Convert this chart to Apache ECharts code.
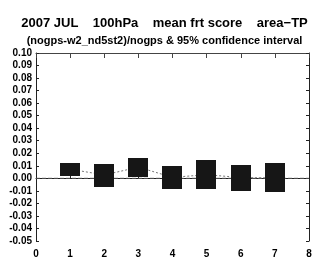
<!DOCTYPE html>
<html>
<head>
<meta charset="utf-8">
<script src="https://cdn.jsdelivr.net/npm/echarts@6/dist/echarts.min.js"></script>
<style>
  html, body { margin: 0; padding: 0; background: #fff; }
  #chart { width: 329px; height: 259px; }
</style>
</head>
<body>
<div id="chart"></div>
<script>
// forecast hours index 1..7
var steps = [1, 2, 3, 4, 5, 6, 7];
// 95% confidence interval (lower / upper)
var ciLow = [0.0020, -0.0063, 0.0013, -0.0083, -0.0088, -0.0099, -0.0115];
var ciHigh = [0.0125, 0.0117, 0.0164, 0.0099, 0.0146, 0.0110, 0.0120];
// mean score difference
var meanVal = [0.0073, 0.0027, 0.0089, 0.0008, 0.0029, 0.0006, 0.0003];
var zeroLine = [[0, 0], [8, 0]];

var chart = echarts.init(document.getElementById("chart"));
var lblFont = { fontFamily: "Liberation Sans", fontWeight: "bold", fontSize: 10, color: "#000" };

var boxData = steps.map(function (s, i) { return [s, ciLow[i], ciHigh[i]]; });
var meanData = steps.map(function (s, i) { return [s, meanVal[i]]; });

var option = {
  animation: false,
  backgroundColor: "#fff",
  grid: { left: 36, right: 20, top: 53, bottom: 14 },
  graphic: [
    { type: "text", left: "center", top: 17,
      style: { text: "2007 JUL    100hPa    mean frt score    area\u2212TP",
        font: "bold 13px Liberation Sans", fill: "#000" } },
    { type: "text", left: "center", top: 35,
      style: { text: "(nogps-w2_nd5st2)/nogps & 95% confidence interval",
        font: "bold 11px Liberation Sans", fill: "#000" } }
  ],
  xAxis: [
    {
      type: "value", min: 0, max: 8, interval: 1, position: "bottom",
      axisLine: { lineStyle: { color: "#222", width: 1 } },
      axisTick: { inside: true, length: 5, lineStyle: { color: "#222" } },
      axisLabel: Object.assign({ margin: 8 }, lblFont),
      splitLine: { show: false }
    },
    {
      type: "value", min: 0, max: 8, interval: 1, position: "top",
      axisLine: { onZero: false, lineStyle: { color: "#444", width: 1 } },
      axisTick: { inside: true, length: 5, lineStyle: { color: "#444" } },
      axisLabel: { show: false },
      splitLine: { show: false }
    }
  ],
  yAxis: [
    {
      type: "value", min: -0.05, max: 0.10, interval: 0.01, position: "left",
      axisLine: { show: true, onZero: false, lineStyle: { color: "#222", width: 1 } },
      axisTick: { show: true, inside: true, length: 3, lineStyle: { color: "#222" } },
      axisLabel: Object.assign({ margin: 4, formatter: function (v) { return v.toFixed(2); } }, lblFont),
      splitLine: { show: false }
    },
    {
      type: "value", min: -0.05, max: 0.10, interval: 0.01, position: "right",
      axisLine: { show: true, onZero: false, lineStyle: { color: "#222", width: 1 } },
      axisTick: { show: true, inside: true, length: 3, lineStyle: { color: "#222" } },
      axisLabel: { show: false },
      splitLine: { show: false }
    }
  ],
  series: [
    {
      name: "zero", type: "line", data: zeroLine, symbol: "none",
      lineStyle: { color: "#555", width: 1, type: [4, 2] }, z: 1
    },
    {
      name: "ci", type: "custom", data: boxData, z: 3,
      renderItem: function (params, api) {
        var x = api.value(0);
        var lo = api.coord([x, api.value(1)]);
        var hi = api.coord([x, api.value(2)]);
        var w = api.size([0.6, 0])[0];
        return {
          type: "rect",
          shape: { x: Math.round(lo[0] - w / 2), y: Math.round(hi[1]), width: Math.round(w), height: Math.round(lo[1] - hi[1]) },
          style: { fill: "#161616", stroke: null }
        };
      }
    },
    {
      name: "mean", type: "line", data: meanData, symbol: "none", z: 2,
      lineStyle: { color: "#777", width: 1, type: [2, 2] }
    }
  ]
};
chart.setOption(option);
</script>
</body>
</html>
